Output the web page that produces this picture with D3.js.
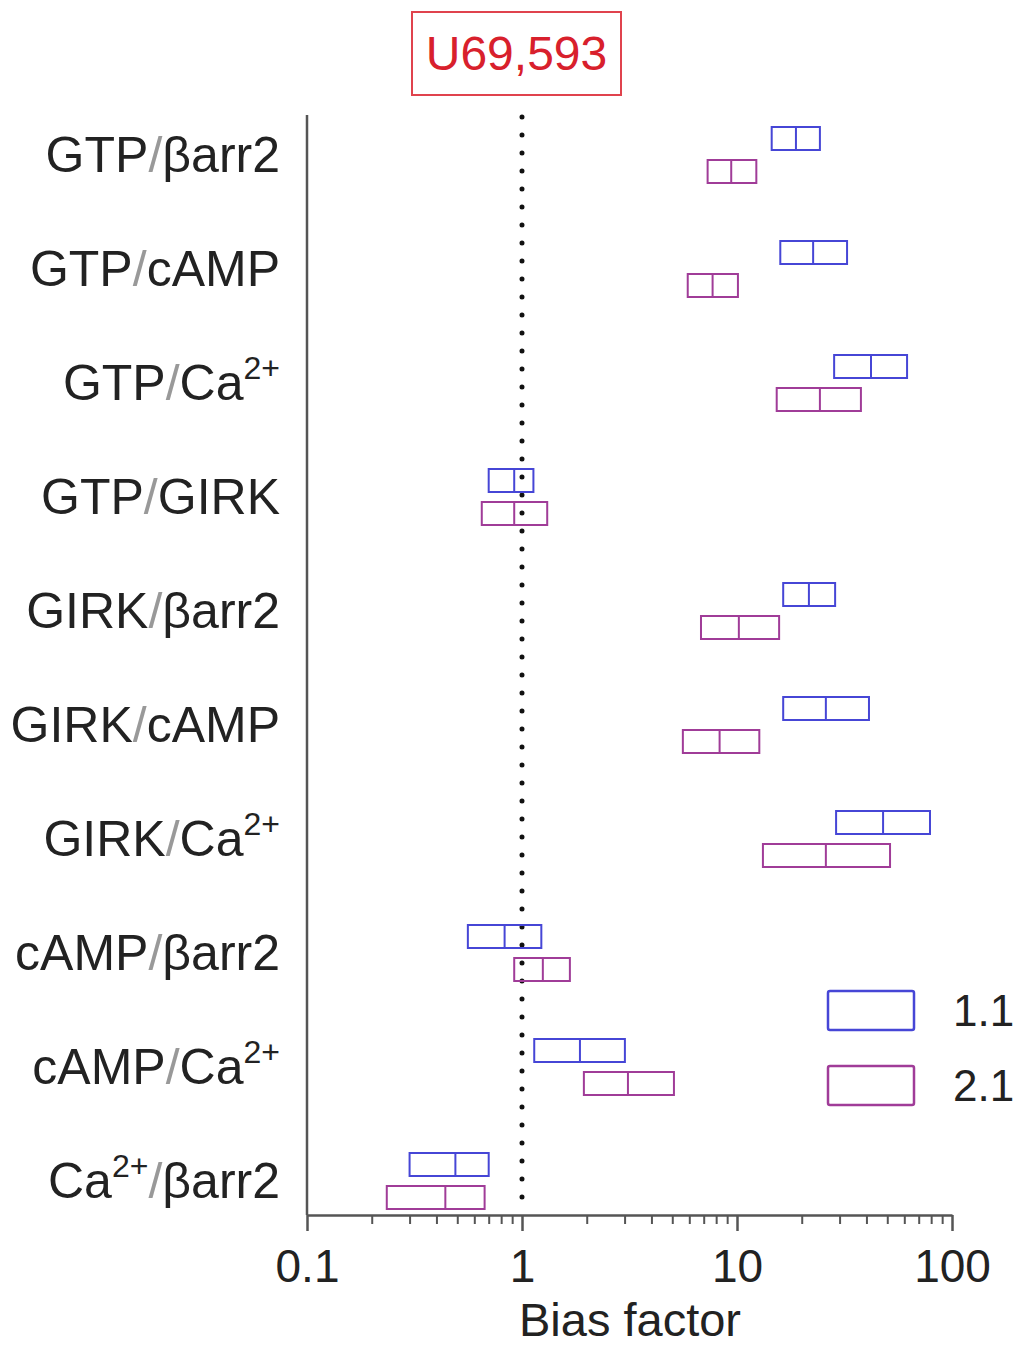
<!DOCTYPE html>
<html>
<head>
<meta charset="utf-8">
<script src="https://cdn.jsdelivr.net/npm/d3@7"></script>
<style>
  body { margin: 0; background: #fff; }
  svg { display: block; font-family: "Liberation Sans", Arial, Helvetica, sans-serif; }
</style>
</head>
<body>
<div id="chart"></div>
<script>
// pathway pairs, top to bottom
var categories = ["GTP/βarr2", "GTP/cAMP", "GTP/Ca2+", "GTP/GIRK", "GIRK/βarr2",
                  "GIRK/cAMP", "GIRK/Ca2+", "cAMP/βarr2", "cAMP/Ca2+", "Ca2+/βarr2"];
var seriesNames = ["1.1", "2.1"];

// bias factor: lower bound, mean, upper bound
var low11  = [14.5, 15.9, 28.3, 0.70, 16.4, 16.4, 28.9, 0.56, 1.14, 0.30];
var mean11 = [18.8, 22.6, 42.0, 0.92, 21.6, 25.9, 47.8, 0.83, 1.86, 0.49];
var high11 = [24.3, 32.5, 61.8, 1.13, 28.6, 41.1, 79.0, 1.23, 3.01, 0.70];

var low21  = [7.3, 5.9, 15.3, 0.65, 6.8, 5.6, 13.2, 0.92, 1.94, 0.235];
var mean21 = [9.4, 7.7, 24.3, 0.92, 10.2, 8.3, 25.9, 1.25, 3.11, 0.44];
var high21 = [12.3, 10.1, 37.7, 1.31, 15.7, 12.7, 51.5, 1.67, 5.09, 0.67];

var majorTicks = [0.1, 1, 10, 100];
var minorTicks = [0.2, 0.3, 0.4, 0.5, 0.6, 0.7, 0.8, 0.9, 2, 3, 4, 5, 6, 7, 8, 9,
                  20, 30, 40, 50, 60, 70, 80, 90];

var colors = ["#4646d6", "#a03c98"];

var width = 1013, height = 1347;
var svg = d3.select("#chart").append("svg").attr("width", width).attr("height", height);

var x = d3.scaleLog().domain([0.1, 100]).range([307, 952]);
var y = d3.scalePoint().domain(categories).range([155, 1181]);
var axisY = 1215;

var series = [
  { name: seriesNames[0], lo: low11, mid: mean11, hi: high11, color: colors[0], off: -28 },
  { name: seriesNames[1], lo: low21, mid: mean21, hi: high21, color: colors[1], off: 5 }
];
var boxH = 23;

// title box
var title = svg.append("g");
title.append("rect").attr("x", 412).attr("y", 12).attr("width", 209).attr("height", 83)
  .attr("fill", "none").attr("stroke", "#e0434d").attr("stroke-width", 2);
title.append("text").attr("x", 516.5).attr("y", 70).attr("text-anchor", "middle")
  .attr("font-size", 48).attr("fill", "#d8202c").text("U69,593");

// y axis line
svg.append("line").attr("x1", 307).attr("x2", 307).attr("y1", 115).attr("y2", axisY)
  .attr("stroke", "#555").attr("stroke-width", 2.5);

// dotted line at 1
svg.append("line").attr("x1", x(1)).attr("x2", x(1)).attr("y1", 117).attr("y2", 1210)
  .attr("stroke", "#111").attr("stroke-width", 5).attr("stroke-linecap", "round")
  .attr("stroke-dasharray", "0,18");

// boxes
series.forEach(function(s) {
  var g = svg.append("g");
  var rows = categories.map(function(c, i) { return { cat: c, lo: s.lo[i], mid: s.mid[i], hi: s.hi[i] }; });
  g.selectAll("rect").data(rows).enter().append("rect")
    .attr("x", function(d) { return x(d.lo); })
    .attr("y", function(d) { return y(d.cat) + s.off; })
    .attr("width", function(d) { return x(d.hi) - x(d.lo); })
    .attr("height", boxH)
    .attr("fill", "none").attr("stroke", s.color).attr("stroke-width", 2);
  g.selectAll("line").data(rows).enter().append("line")
    .attr("x1", function(d) { return x(d.mid); })
    .attr("x2", function(d) { return x(d.mid); })
    .attr("y1", function(d) { return y(d.cat) + s.off; })
    .attr("y2", function(d) { return y(d.cat) + s.off + boxH; })
    .attr("stroke", s.color).attr("stroke-width", 2);
});

// category labels, with grey slash and superscript charge
var labels = svg.append("g").attr("font-size", 50).attr("fill", "#222").attr("text-anchor", "end");
categories.forEach(function(c) {
  var t = labels.append("text").attr("x", 280).attr("y", y(c) + 17);
  var parts = c.split(/(\/|2\+)/).filter(function(p) { return p.length; });
  var raised = false;
  parts.forEach(function(p) {
    var ts = t.append("tspan").text(p);
    if (p === "/") ts.attr("fill", "#999");
    if (p === "2+") { ts.attr("font-size", 32).attr("dy", -21); raised = true; }
    else if (raised) { ts.attr("dy", 21); raised = false; }
  });
});

// x axis
var xAxis = svg.append("g").attr("transform", "translate(0," + axisY + ")")
  .call(d3.axisBottom(x).tickValues(majorTicks).tickSize(16).tickSizeOuter(0).tickPadding(18)
    .tickFormat(function(d) { return d3.format("")(d); }));
xAxis.select(".domain").attr("stroke", "#555").attr("stroke-width", 2.5);
xAxis.selectAll(".tick line").attr("stroke", "#555").attr("stroke-width", 2.5);
xAxis.selectAll(".tick text").attr("font-size", 46).attr("fill", "#222")
  .attr("font-family", "Liberation Sans, Arial, sans-serif");

var minor = svg.append("g").attr("transform", "translate(0," + axisY + ")")
  .call(d3.axisBottom(x).tickValues(minorTicks).tickSize(9).tickFormat(""));
minor.select(".domain").remove();
minor.selectAll(".tick line").attr("stroke", "#555").attr("stroke-width", 2);

svg.append("text").attr("x", 630).attr("y", 1336).attr("text-anchor", "middle")
  .attr("font-size", 47).attr("fill", "#222").text("Bias factor");

// legend
var legend = svg.append("g");
series.forEach(function(s, i) {
  legend.append("rect").attr("x", 828).attr("y", 991 + i * 75).attr("width", 86).attr("height", 39)
    .attr("fill", "none").attr("stroke", s.color).attr("stroke-width", 2.5).attr("rx", 2);
  legend.append("text").attr("x", 953).attr("y", 1026 + i * 75).attr("font-size", 44)
    .attr("fill", "#222").text(s.name);
});
</script>
</body>
</html>
